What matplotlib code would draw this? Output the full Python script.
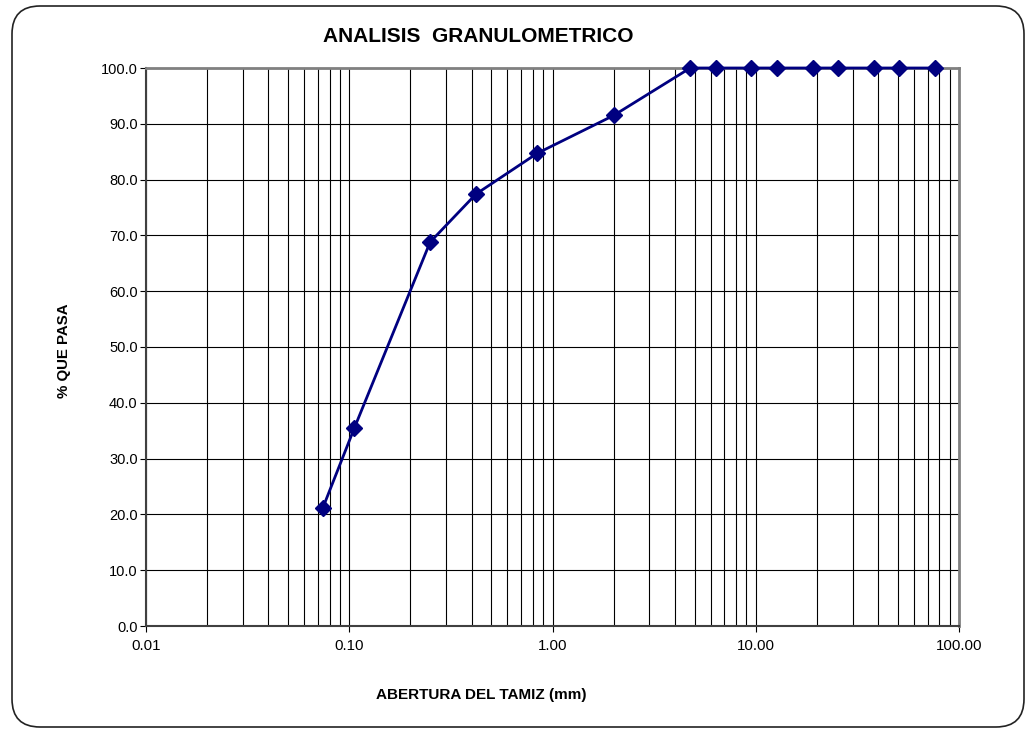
import matplotlib.pyplot as plt
import numpy as np
from matplotlib.patches import FancyBboxPatch
from matplotlib.ticker import FixedLocator, FuncFormatter, LogLocator, NullFormatter

plt.rcParams['font.family'] = ['Liberation Sans', 'DejaVu Sans']

# sieve openings (mm) and % passing
abertura = [76.2, 50.8, 38.1, 25.4, 19.05, 12.7, 9.525, 6.35, 4.76, 2.00, 0.84, 0.42, 0.25, 0.106, 0.074]
pasa = [100.0, 100.0, 100.0, 100.0, 100.0, 100.0, 100.0, 100.0, 100.0, 91.5, 84.7, 77.4, 68.8, 35.5, 21.1]

xticks = [0.01, 0.1, 1, 10, 100]
yticks = np.arange(0, 101, 10)

fig = plt.figure(figsize=(10.25, 7.31), dpi=100)
ax = fig.add_axes([146 / 1025, 1 - 626 / 731, (959 - 146) / 1025, (626 - 68) / 731])

# rounded frame around the whole chart
frame = FancyBboxPatch((0.12, 0.04), 10.12, 7.21, boxstyle="round,pad=0,rounding_size=0.28",
                       transform=fig.dpi_scale_trans, facecolor='none', edgecolor='#222222',
                       linewidth=1.2, zorder=0)
fig.patches.append(frame)

ax.plot(abertura, pasa, color='#000080', linewidth=2, marker='D', markersize=8,
        markerfacecolor='#000080', markeredgecolor='#000080', zorder=5, clip_on=False)

ax.set_xscale('log')
ax.set_xlim(0.01, 100)
ax.set_ylim(0, 100)

ax.xaxis.set_major_locator(FixedLocator(xticks))
ax.xaxis.set_major_formatter(FuncFormatter(lambda v, p: f"{v:.2f}"))
ax.xaxis.set_minor_locator(LogLocator(base=10, subs=np.arange(2, 10)))
ax.xaxis.set_minor_formatter(NullFormatter())
ax.set_yticks(yticks)
ax.yaxis.set_major_formatter(FuncFormatter(lambda v, p: f"{v:.1f}"))

ax.grid(which='both', axis='x', color='black', linewidth=0.8)
ax.grid(which='major', axis='y', color='black', linewidth=0.8)
ax.set_axisbelow(True)

ax.tick_params(axis='x', which='major', length=4, width=0.8, labelsize=10.8, pad=5)
ax.tick_params(axis='x', which='minor', length=0)
ax.tick_params(axis='y', length=4, width=0.8, labelsize=10.5, pad=2)

ax.spines['top'].set_color('#808080')
ax.spines['right'].set_color('#808080')
ax.spines['top'].set_linewidth(2)
ax.spines['right'].set_linewidth(2)
ax.spines['bottom'].set_color('#404040')
ax.spines['bottom'].set_linewidth(1.5)
ax.spines['left'].set_color('#404040')
ax.spines['left'].set_linewidth(1.5)

fig.text(478 / 1025, 1 - 36 / 731, "ANALISIS  GRANULOMETRICO", ha='center', va='center',
         fontsize=15, fontweight='bold')
fig.text(481 / 1025, 1 - 695 / 731, "ABERTURA DEL TAMIZ (mm)", ha='center', va='center',
         fontsize=11, fontweight='bold')
fig.text(64 / 1025, 1 - 351 / 731, "% QUE PASA", ha='center', va='center', rotation=90,
         fontsize=10.8, fontweight='bold')

fig.savefig("out.png", dpi=100)
